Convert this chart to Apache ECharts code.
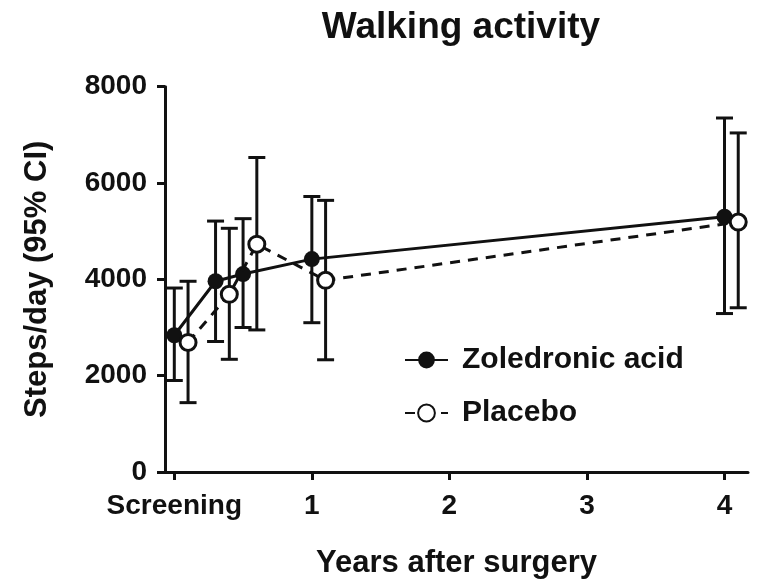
<!DOCTYPE html>
<html>
<head>
<meta charset="utf-8">
<script src="https://cdn.jsdelivr.net/npm/echarts@6/dist/echarts.min.js"></script>
<style>
  html, body { margin: 0; padding: 0; background: #fff; }
  #chart { width: 761px; height: 584px; }
</style>
</head>
<body>
<div id="chart"></div>
<script>
// years after surgery (placebo nudged right a bit so bars don't overlap)
const zolX = [0, 0.3, 0.5, 1, 4];
const plaX = [0.1, 0.4, 0.6, 1.1, 4.1];

// steps/day mean and 95% CI
const zolMean = [2840, 3960, 4110, 4420, 5300];
const zolLow = [1900, 2710, 3000, 3100, 3290];
const zolHigh = [3820, 5210, 5260, 5720, 7350];

const plaMean = [2690, 3690, 4730, 3980, 5190];
const plaLow = [1440, 2340, 2950, 2330, 3410];
const plaHigh = [3960, 5060, 6530, 5640, 7040];

const xTicks = [0, 1, 2, 3, 4];
const xTickLabels = ["Screening", "1", "2", "3", "4"];

const FONT = "'Liberation Sans', Arial, sans-serif";
const INK = "#111";

const chart = echarts.init(document.getElementById("chart"));

// error bars: vertical line with caps
const errorBar = (xs, lows, highs) => ({
  type: "custom",
  silent: true,
  z: 1,
  data: xs.map((x, i) => [x, lows[i], highs[i]]),
  renderItem: (params, api) => {
    const lo = api.coord([api.value(0), api.value(1)]);
    const hi = api.coord([api.value(0), api.value(2)]);
    const cap = 8.5;
    const style = { stroke: INK, lineWidth: 3 };
    return {
      type: "group",
      children: [
        { type: "line", shape: { x1: lo[0], y1: lo[1], x2: hi[0], y2: hi[1] }, style },
        { type: "line", shape: { x1: lo[0] - cap, y1: lo[1], x2: lo[0] + cap, y2: lo[1] }, style },
        { type: "line", shape: { x1: hi[0] - cap, y1: hi[1], x2: hi[0] + cap, y2: hi[1] }, style },
      ],
    };
  },
});

const option = {
  animation: false,
  backgroundColor: "#fff",
  title: {
    text: "Walking activity",
    left: 456,
    top: 4,
    textAlign: "center",
    textStyle: { fontFamily: FONT, fontWeight: "bold", fontSize: 37, color: INK },
  },
  legend: {
    data: ["Zoledronic acid", "Placebo"],
    orient: "vertical",
    left: 399,
    top: 340,
    itemWidth: 43,
    itemHeight: 21,
    itemGap: 23,
    textStyle: { fontFamily: FONT, fontWeight: "bold", fontSize: 30, color: INK, lineHeight: 30, padding: [0, 0, 0, 9] },
  },
  grid: { left: 165, right: 13, top: 86.7, bottom: 108, containLabel: false },
  xAxis: {
    type: "value",
    min: -0.0676,
    max: 4.171,
    name: "Years after surgery",
    nameLocation: "middle",
    nameGap: 76,
    nameTextStyle: { fontFamily: FONT, fontWeight: "bold", fontSize: 31, color: INK },
    axisLine: { onZero: false, lineStyle: { color: INK, width: 3 } },
    axisTick: { show: true, length: 8, lineStyle: { width: 3, color: INK }, customValues: xTicks },
    axisLabel: {
      customValues: xTicks,
      formatter: (v) => xTickLabels[xTicks.indexOf(Math.round(v))],
      margin: 20,
      fontFamily: FONT,
      fontWeight: "bold",
      fontSize: 28,
      color: INK,
    },
    splitLine: { show: false },
  },
  yAxis: {
    type: "value",
    min: 0,
    max: 8000,
    interval: 2000,
    name: "Steps/day (95% CI)",
    nameLocation: "middle",
    nameGap: 112,
    nameTextStyle: { fontFamily: FONT, fontWeight: "bold", fontSize: 31, color: INK },
    axisLine: { show: true, onZero: false, lineStyle: { color: INK, width: 3 } },
    axisTick: { show: true, length: 8, lineStyle: { width: 3, color: INK } },
    axisLabel: {
      margin: 18,
      formatter: (v) => String(v),
      fontFamily: FONT,
      fontWeight: "bold",
      fontSize: 28,
      color: INK,
    },
    splitLine: { show: false },
  },
  series: [
    errorBar(zolX, zolLow, zolHigh),
    errorBar(plaX, plaLow, plaHigh),
    {
      name: "Zoledronic acid",
      type: "line",
      z: 3,
      data: zolX.map((x, i) => [x, zolMean[i]]),
      symbol: "circle",
      symbolSize: 16,
      lineStyle: { color: INK, width: 3 },
      itemStyle: { color: INK, borderColor: INK, borderWidth: 0 },
    },
    {
      name: "Placebo",
      type: "line",
      z: 4,
      data: plaX.map((x, i) => [x, plaMean[i]]),
      symbol: "circle",
      symbolSize: 16,
      lineStyle: { color: INK, width: 3, type: [10, 8] },
      itemStyle: { color: "#fff", borderColor: INK, borderWidth: 3 },
    },
  ],
};

chart.setOption(option);
</script>
</body>
</html>
